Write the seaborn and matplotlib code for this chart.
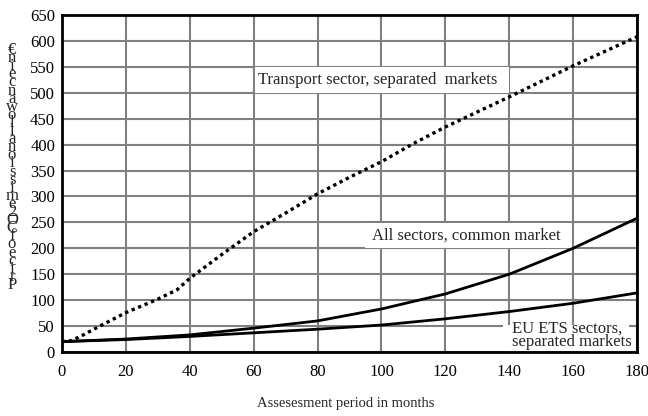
import pandas as pd
import seaborn as sns
import matplotlib.pyplot as plt
from matplotlib.patches import Rectangle

# values
months_tr = [0, 3, 7, 10, 20, 30, 36, 40, 50, 60, 70, 80, 90, 100, 110, 120, 130, 140, 150, 160, 170, 180]
transport = [20, 22, 34, 44, 76, 102, 120, 142, 188, 232, 268, 305, 337, 367, 402, 434, 463, 492, 522, 552, 580, 608]

months = [0, 20, 40, 60, 80, 100, 120, 140, 160, 180]
all_sectors = [20, 25, 33, 46, 60, 83, 112, 150, 200, 258]
eu_ets = [20, 24, 30, 37, 44, 52, 64, 78, 94, 114]

x_ticks = list(range(0, 181, 20))
y_ticks = list(range(0, 651, 50))

ylabel = "Price of CO2 emission allowance in €"
xlabel = "Assesesment period in months"

sns.set_style("white")
plt.rcParams['font.family'] = ['Liberation Serif', 'DejaVu Serif']

df_tr = pd.DataFrame({'month': months_tr, 'price': transport})
df = pd.DataFrame({'month': months, 'all': all_sectors, 'eu': eu_ets})

fig = plt.figure(figsize=(6.48, 4.16), dpi=100)
ax = fig.add_axes([62 / 648, 1 - 352 / 416, 575 / 648, 337 / 416])

sns.lineplot(data=df_tr, x='month', y='price', ax=ax, color='black',
             linewidth=2.4, linestyle=(0, (1, 1.1)), zorder=4)
sns.lineplot(data=df, x='month', y='all', ax=ax, color='black', linewidth=2, zorder=4)
sns.lineplot(data=df, x='month', y='eu', ax=ax, color='black', linewidth=2, zorder=4)

ax.set_xlim(0, 180)
ax.set_ylim(0, 650)
ax.set_xticks(x_ticks)
ax.set_yticks(y_ticks)
ax.grid(True, color='#808080', linewidth=1.5)
ax.set_axisbelow(True)
for s in ax.spines.values():
    s.set_color('black')
    s.set_linewidth(2)
ax.tick_params(length=0, labelsize=12, colors='black')
ax.tick_params(axis='x', pad=9)
ax.tick_params(axis='y', pad=5)
ax.set_xlabel('')
ax.set_ylabel('')

# label boxes
ax.add_patch(Rectangle((60.3, 500), 79.7, 50, facecolor='white', edgecolor='none', zorder=2))
ax.text(61.4, 525, "Transport sector, separated  markets", fontsize=12, va='center', ha='left', zorder=3)

ax.add_patch(Rectangle((95, 201), 64.5, 48, facecolor='white', edgecolor='none', zorder=2))
ax.text(97, 225, "All sectors, common market", fontsize=12, va='center', ha='left', zorder=3)

ax.add_patch(Rectangle((138, 1), 39.5, 51, facecolor='white', edgecolor='none', zorder=2))
ax.text(141, 32, "EU ETS sectors,\nseparated markets", fontsize=12, va='center', ha='left',
        linespacing=0.78, zorder=3)

fig.text(346 / 648, 1 - 404 / 416, xlabel, ha='center', va='center', fontsize=10.5)

# vertical stacked y label (characters upright, reading bottom to top)
chars = [ch for ch in ylabel[::-1] if ch != ' ']
step = (285 - 50) / (len(chars) - 1)
for i, ch in enumerate(chars):
    fig.text(12 / 648, 1 - (50 + i * step) / 416, ch, ha='center', va='center', fontsize=12)

fig.savefig('out.png', dpi=100)
